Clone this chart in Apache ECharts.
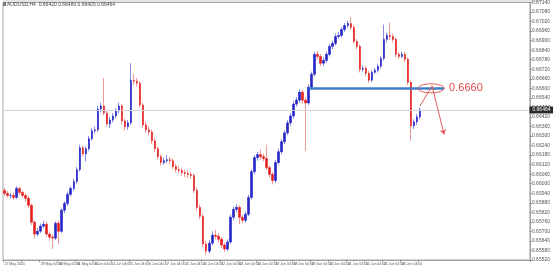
<!DOCTYPE html>
<html>
<head>
<meta charset="utf-8">
<script src="https://cdn.jsdelivr.net/npm/echarts@6/dist/echarts.min.js"></script>
<style>html,body{margin:0;padding:0;background:#fff;}#c{width:553px;height:267px;}</style>
</head>
<body>
<div id="c"></div>
<script>
// ---- data (AUDUSD H4) ----
const tickLabels = ['27 May 2024','28 May 04:00','29 May 04:00','30 May 04:00','31 May 04:00','3 Jun 04:00',
  '4 Jun 04:00','5 Jun 04:00','6 Jun 04:00','7 Jun 04:00','10 Jun 04:00','11 Jun 04:00',
  '12 Jun 04:00','13 Jun 04:00','14 Jun 04:00','17 Jun 04:00','18 Jun 04:00','19 Jun 04:00',
  '20 Jun 04:00','21 Jun 04:00','24 Jun 04:00','25 Jun 04:00','26 Jun 04:00','27 Jun 04:00'];
const opens = [0.65958,0.65939,0.65926,0.65926,0.65914,0.65970,0.65945,0.65926,0.65908,0.65864,
0.65758,0.65683,0.65701,0.65733,0.65745,0.65683,0.65664,0.65658,0.65751,0.65701,
0.65833,0.65876,0.65933,0.65970,0.66014,0.66089,0.66226,0.66189,0.66220,0.66283,
0.66333,0.66339,0.66470,0.66489,0.66445,0.66376,0.66401,0.66426,0.66458,0.66489,
0.66395,0.66358,0.66383,0.66651,0.66645,0.66633,0.66495,0.66370,0.66339,0.66326,
0.66270,0.66220,0.66170,0.66133,0.66145,0.66151,0.66145,0.66108,0.66089,0.66083,
0.66070,0.66064,0.66058,0.66051,0.65958,0.65851,0.65795,0.65620,0.65576,0.65626,
0.65676,0.65670,0.65651,0.65614,0.65589,0.65633,0.65789,0.65839,0.65851,0.65789,
0.65770,0.65808,0.65914,0.66076,0.66164,0.66183,0.66170,0.66158,0.66101,0.66058,
0.66020,0.66133,0.66201,0.66264,0.66320,0.66383,0.66426,0.66501,0.66526,0.66576,
0.66526,0.66508,0.66608,0.66689,0.66814,0.66801,0.66758,0.66776,0.66814,0.66864,
0.66883,0.66926,0.66933,0.66970,0.66995,0.67008,0.66983,0.66895,0.66864,0.66720,
0.66726,0.66695,0.66651,0.66701,0.66714,0.66739,0.66789,0.66908,0.66933,0.66926,
0.66908,0.66814,0.66801,0.66814,0.66783,0.66639,0.66364,0.66389,0.66420];
const closes = [0.65939,0.65926,0.65926,0.65914,0.65970,0.65945,0.65926,0.65908,0.65864,0.65758,
0.65683,0.65701,0.65733,0.65745,0.65683,0.65664,0.65658,0.65751,0.65701,0.65833,
0.65876,0.65933,0.65970,0.66014,0.66089,0.66226,0.66189,0.66220,0.66283,0.66333,
0.66339,0.66470,0.66489,0.66445,0.66376,0.66401,0.66426,0.66458,0.66489,0.66395,
0.66358,0.66383,0.66651,0.66645,0.66633,0.66495,0.66370,0.66339,0.66326,0.66270,
0.66220,0.66170,0.66133,0.66145,0.66151,0.66145,0.66108,0.66089,0.66083,0.66070,
0.66064,0.66058,0.66051,0.65958,0.65851,0.65795,0.65620,0.65576,0.65626,0.65676,
0.65670,0.65651,0.65614,0.65589,0.65633,0.65789,0.65839,0.65851,0.65789,0.65770,
0.65808,0.65914,0.66076,0.66164,0.66183,0.66170,0.66158,0.66101,0.66058,0.66020,
0.66133,0.66201,0.66264,0.66320,0.66383,0.66426,0.66501,0.66526,0.66576,0.66526,
0.66508,0.66608,0.66689,0.66814,0.66801,0.66758,0.66776,0.66814,0.66864,0.66883,
0.66926,0.66933,0.66970,0.66995,0.67008,0.66983,0.66895,0.66864,0.66720,0.66726,
0.66695,0.66651,0.66701,0.66714,0.66739,0.66789,0.66908,0.66933,0.66926,0.66908,
0.66814,0.66801,0.66814,0.66783,0.66639,0.66364,0.66389,0.66420,0.66464];
const highs = [0.65975,0.65955,0.65940,0.65945,0.65985,0.65982,0.65958,0.65940,0.65925,0.65875,
0.65770,0.65720,0.65750,0.65765,0.65760,0.65700,0.65680,0.65765,0.65770,0.65845,
0.65890,0.65950,0.65985,0.66030,0.66105,0.66245,0.66240,0.66235,0.66300,0.66350,
0.66360,0.66490,0.66510,0.66664,0.66460,0.66420,0.66445,0.66475,0.66510,0.66500,
0.66410,0.66400,0.66758,0.66690,0.66665,0.66645,0.66510,0.66390,0.66360,0.66340,
0.66290,0.66235,0.66185,0.66165,0.66180,0.66170,0.66160,0.66125,0.66110,0.66100,
0.66090,0.66085,0.66075,0.66065,0.65975,0.65870,0.65810,0.65640,0.65645,0.65700,
0.65710,0.65690,0.65665,0.65630,0.65650,0.65805,0.65855,0.65870,0.65865,0.65805,
0.65825,0.65930,0.66090,0.66180,0.66200,0.66215,0.66190,0.66245,0.66115,0.66075,
0.66150,0.66220,0.66280,0.66335,0.66400,0.66445,0.66520,0.66545,0.66595,0.66590,
0.66545,0.66625,0.66705,0.66830,0.66835,0.66815,0.66795,0.66830,0.66880,0.66900,
0.66945,0.66955,0.66985,0.67010,0.67025,0.67051,0.67000,0.66910,0.66875,0.66745,
0.66740,0.66710,0.66715,0.66730,0.66755,0.66805,0.67001,0.66950,0.67014,0.66945,
0.66920,0.66830,0.66830,0.66830,0.66795,0.66650,0.66405,0.66440,0.66480];
const lows = [0.65925,0.65910,0.65905,0.65898,0.65905,0.65930,0.65912,0.65890,0.65845,0.65740,
0.65655,0.65670,0.65690,0.65720,0.65665,0.65640,0.65589,0.65645,0.65620,0.65690,
0.65815,0.65860,0.65920,0.65955,0.66000,0.66075,0.66170,0.66140,0.66205,0.66270,
0.66315,0.66325,0.66450,0.66430,0.66358,0.66350,0.66385,0.66410,0.66440,0.66375,
0.66335,0.66340,0.66370,0.66620,0.66610,0.66480,0.66350,0.66320,0.66305,0.66250,
0.66200,0.66150,0.66115,0.66120,0.66130,0.66125,0.66090,0.66070,0.66065,0.66050,
0.66040,0.66035,0.66030,0.65940,0.65830,0.65775,0.65600,0.65551,0.65560,0.65610,
0.65650,0.65630,0.65595,0.65570,0.65575,0.65620,0.65770,0.65820,0.65745,0.65750,
0.65755,0.65795,0.65900,0.66060,0.66145,0.66150,0.66140,0.66085,0.66040,0.65995,
0.66005,0.66120,0.66185,0.66250,0.66305,0.66365,0.66410,0.66485,0.66510,0.66505,
0.66208,0.66495,0.66590,0.66675,0.66780,0.66740,0.66740,0.66760,0.66800,0.66845,
0.66870,0.66910,0.66920,0.66955,0.66980,0.66965,0.66880,0.66845,0.66700,0.66705,
0.66675,0.66635,0.66640,0.66690,0.66700,0.66725,0.66775,0.66890,0.66905,0.66890,
0.66795,0.66785,0.66790,0.66765,0.66620,0.66270,0.66345,0.66370,0.66405];
const level = 0.6660;          // marked support level
const levelLabel = '0.6660';
const lastPrice = 0.66464;     // current bid
const headerText = 'AUDUSD,H4  0.66420 0.66480 0.66405 0.66464';
// annotation path points [bar index, price]
const arrowPts = [[138, 0.6649], [142, 0.66615], [146, 0.6631]];
const levelFrom = 101, levelTo = 146, ellipseAt = 142;

// ---- build ----
const SLOTS = 175; // chart shift: empty space on the right
const categories = [];
for (let i = 0; i < SLOTS; i++) categories.push(i < opens.length && i % 6 === 0 ? tickLabels[i / 6] : ('s' + i));
const wicks = opens.map((o, i) => [o, closes[i], lows[i], highs[i]]);
const bodies = opens.map((o, i) => [o, closes[i], Math.min(o, closes[i]), Math.max(o, closes[i])]);
const showTick = (i) => i < opens.length && i % 6 === 0;

const chart = echarts.init(document.getElementById('c'), null, {renderer: 'canvas'});
const FONT = 'Liberation Sans, Arial, sans-serif';
chart.setOption({
  animation: false,
  backgroundColor: '#ffffff',
  grid: {left: 3, right: 12, top: -1, bottom: 7, show: true, borderColor: '#a8a8a8', borderWidth: 1},
  xAxis: {
    type: 'category', data: categories, boundaryGap: true,
    axisLine: {show: true, lineStyle: {color: '#a0a0a0'}},
    axisTick: {show: true, interval: showTick, length: 2, lineStyle: {color: '#909090'}},
    axisLabel: {interval: showTick, showMinLabel: true, align: 'left', fontSize: 3.5, color: '#555', margin: 2, fontFamily: FONT},
    splitLine: {show: false}
  },
  yAxis: {
    type: 'value', position: 'right', scale: true,
    min: 0.6552, max: 0.6714, interval: 0.0006,
    axisLine: {show: true, lineStyle: {color: '#a0a0a0'}},
    axisTick: {show: true, length: 2, lineStyle: {color: '#909090'}},
    axisLabel: {fontSize: 5, color: '#555', margin: 2, fontFamily: FONT, formatter: v => v.toFixed(5)},
    splitLine: {show: false}
  },
  series: [
    {
      type: 'candlestick', data: wicks, barWidth: 1, silent: true,
      itemStyle: {color: '#8a8ae8', color0: '#f29a9a', borderColor: '#8a8ae8', borderColor0: '#f29a9a', borderWidth: 1}
    },
    {
      type: 'candlestick', data: bodies, barWidth: 2, silent: true,
      itemStyle: {color: '#2424c8', color0: '#e61e1e', borderColor: '#2424c8', borderColor0: '#e61e1e', borderWidth: 0.6},
      markLine: {
        silent: true, symbol: ['none', 'none'], animation: false,
        data: [
          [{coord: [0, lastPrice], lineStyle: {color: '#d2d2d2', width: 1, type: 'solid'},
            label: {show: true, position: 'end', distance: 1, formatter: lastPrice.toFixed(5), fontSize: 5,
                    color: '#fff', backgroundColor: '#2a2a2a', padding: [1, 3], fontFamily: FONT}},
           {coord: [SLOTS - 1, lastPrice]}],
          [{coord: [levelFrom, level], lineStyle: {color: '#3f7fc4', width: 2.5, type: 'solid'},
            label: {show: true, position: 'end', distance: 5, formatter: levelLabel, color: '#e04646', fontSize: 11, fontFamily: FONT}},
           {coord: [levelTo, level]}],
          [{coord: arrowPts[0], lineStyle: {color: '#e35d5d', width: 1, type: 'solid'}, label: {show: false}},
           {coord: arrowPts[1]}],
          [{coord: arrowPts[1], lineStyle: {color: '#e35d5d', width: 1, type: 'solid'}, label: {show: false}},
           {coord: arrowPts[2], symbol: 'arrow', symbolSize: 5}]
        ]
      }
    }
  ]
});

const ec = chart.convertToPixel({xAxisIndex: 0, yAxisIndex: 0}, [ellipseAt, level]);
chart.setOption({
  graphic: [
    {type: 'line', shape: {x1: 3, y1: 1, x2: 541, y2: 1}, style: {stroke: '#c8c8c8', lineWidth: 1}, silent: true},
    {type: 'ellipse', shape: {cx: ec[0] - 1, cy: ec[1], rx: 13, ry: 4.5}, style: {fill: 'none', stroke: '#e05a5a', lineWidth: 1}, z: 100},
    {type: 'text', left: 7, top: 2, style: {text: headerText, fontSize: 5, fill: '#444', fontFamily: FONT}},
    {type: 'rect', left: 3, top: 2, shape: {width: 3, height: 4}, style: {fill: '#7a7a7a'}}
  ]
});
</script>
</body>
</html>
